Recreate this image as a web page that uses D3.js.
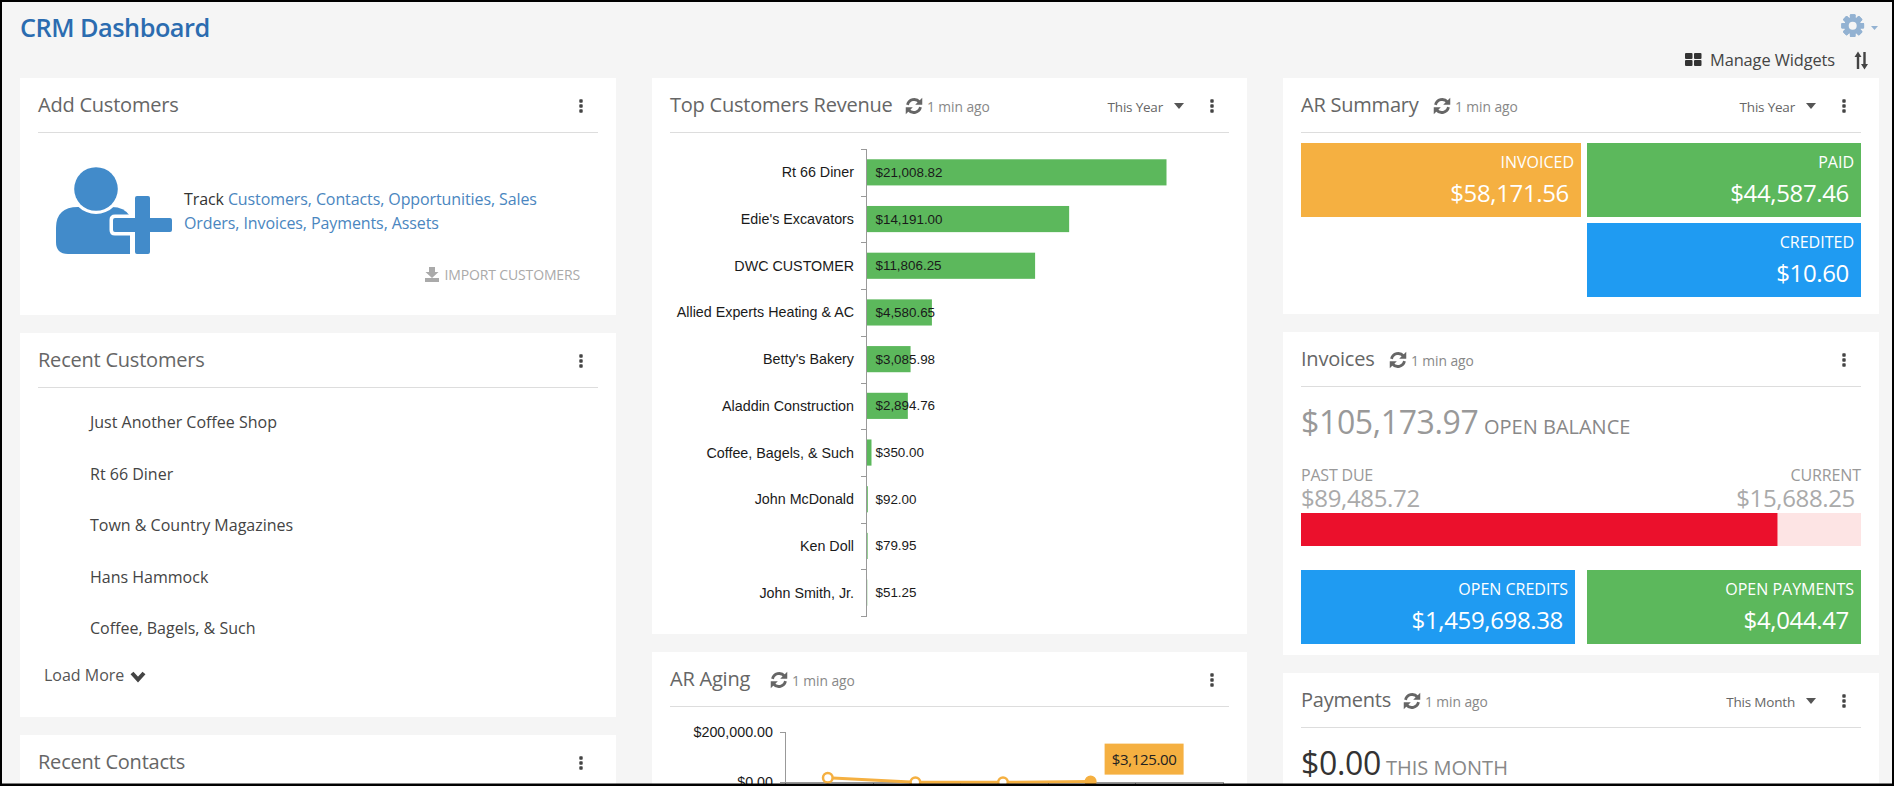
<!DOCTYPE html>
<html>
<head>
<meta charset="utf-8">
<title>CRM Dashboard</title>
<script src="https://cdn.jsdelivr.net/npm/d3@7"></script>
<style>
  html, body { margin: 0; padding: 0; background: #f5f5f5; overflow: hidden; }
  svg { display: block; }
  text { font-family: "Open Sans", sans-serif; }
  .axis path, .axis line { stroke: #999; shape-rendering: crispEdges; }
  .chart-label { font-family: "Liberation Sans", Arial, sans-serif; fill: #1a1a1a; }
  .tight { letter-spacing: -0.35px; }
</style>
</head>
<body>
<svg id="page" width="1894" height="786"></svg>
<script>
// top customers
var customerNames = ["Rt 66 Diner", "Edie's Excavators", "DWC CUSTOMER", "Allied Experts Heating & AC", "Betty's Bakery",
  "Aladdin Construction", "Coffee, Bagels, & Such", "John McDonald", "Ken Doll", "John Smith, Jr."];
var customerRevenue = [21008.82, 14191.00, 11806.25, 4580.65, 3085.98, 2894.76, 350.00, 92.00, 79.95, 51.25];

// ar aging, first three, the last one from its tooltip
var agingBuckets = ["bucket1", "bucket2", "bucket3", "bucket4", "bucket5"];
var agingValues = [18500, 800, 650, 3125];

var recentCustomers = ["Just Another Coffee Shop", "Rt 66 Diner", "Town & Country Magazines", "Hans Hammock", "Coffee, Bagels, & Such"];
var trackLine1 = ["Customers", "Contacts", "Opportunities", "Sales"];
var trackLine2 = ["Orders", "Invoices", "Payments", "Assets"];

var invoicedTotal = 58171.56, paidTotal = 44587.46, creditedTotal = 10.60;
var openBalance = 105173.97, pastDue = 89485.72, currentDue = 15688.25;
var openCredits = 1459698.38, openPayments = 4044.47, paymentsThisMonth = 0;

var money = d3.format("$,.2f");
var ORANGE = "#f5b041", GREEN = "#5cb85c", BLUE = "#1f9bf2", RED = "#eb102c", PINK = "#fde4e4", LINK = "#4a86c0";

var svg = d3.select("#page");
svg.append("rect").attr("width", 1894).attr("height", 786).attr("fill", "#f5f5f5");

function label(x, y, str, size, color, anchor) {
  return svg.append("text").attr("x", x).attr("y", y).text(str)
    .attr("font-size", size).attr("fill", color).attr("text-anchor", anchor || "start");
}

function kebab(x, y) {
  [-5, 0, 5].forEach(function(d) {
    svg.append("rect").attr("x", x - 1.7).attr("y", y + d - 1.7).attr("width", 3.4).attr("height", 3.4)
      .attr("rx", 0.8).attr("fill", "#444");
  });
}

function refreshIcon(cx, cy) {
  var g = svg.append("g").attr("transform", "translate(" + cx + "," + cy + ") scale(1.18)");
  g.append("path").attr("d", "M-5.5,-1 A5.8,5.8 0 0 1 4.6,-3.4").attr("fill", "none").attr("stroke", "#666").attr("stroke-width", 2.4);
  g.append("path").attr("d", "M5.5,1 A5.8,5.8 0 0 1 -4.6,3.4").attr("fill", "none").attr("stroke", "#666").attr("stroke-width", 2.4);
  g.append("path").attr("d", "M7,-7 L7,-1 L1,-1 Z").attr("fill", "#666");
  g.append("path").attr("d", "M-7,7 L-7,1 L-1,1 Z").attr("fill", "#666");
}

function caret(x, y) {
  svg.append("path").attr("d", "M" + x + "," + y + " h10 l-5,6 Z").attr("fill", "#555");
}

// white panel with title row and the grey rule under it
function card(opts) {
  svg.append("rect").attr("x", opts.x).attr("y", opts.y).attr("width", opts.w).attr("height", opts.h).attr("fill", "#fff");
  var left = opts.x + 18, right = opts.x + opts.w - 18;
  var base = opts.y + 34;
  label(left, base, opts.title, 20, "#666").style("letter-spacing", "-0.22px");
  svg.append("rect").attr("x", left).attr("y", opts.y + 54).attr("width", right - left).attr("height", 1).attr("fill", "#ddd");
  kebab(opts.x + opts.w - 35, opts.y + 28);
  if (opts.iconX) {
    refreshIcon(opts.iconX + 8, base - 6);
    label(opts.iconX + 21, base, "1 min ago", 13.8, "#888").style("letter-spacing", "-0.05px");
  }
  if (opts.range) {
    label(opts.x + opts.w - 84, base, opts.range, 13.5, "#666", "end").style("letter-spacing", "-0.2px");
    caret(opts.x + opts.w - 73, base - 9);
  }
}

function tile(x, y, w, h, color, name, value) {
  svg.append("rect").attr("x", x).attr("y", y).attr("width", w).attr("height", h).attr("fill", color);
  label(x + w - 7, y + 25, name, 16, "#fff", "end");
  label(x + w - 12, y + 59, money(value), 24, "#fff", "end").attr("class", "tight");
}

// ---- page header
label(20, 37, "CRM Dashboard", 25.3, "#2b6cb0").attr("font-weight", 600).style("letter-spacing", "-0.5px");

var gear = svg.append("g").attr("transform", "translate(1852.7,25.7)").attr("fill", "#93b2d2");
d3.range(8).forEach(function(i) {
  gear.append("rect").attr("x", -2.8).attr("y", -11.4).attr("width", 5.6).attr("height", 22.8).attr("rx", 1)
    .attr("transform", "rotate(" + i * 45 + ")");
});
gear.append("circle").attr("r", 8.5);
gear.append("circle").attr("r", 4).attr("fill", "#f5f5f5");
svg.append("path").attr("d", "M1871,26 h7 l-3.5,4 Z").attr("fill", "#93b2d2");

[[0, 0], [9, 0], [0, 7], [9, 7]].forEach(function(d) {
  svg.append("rect").attr("x", 1685 + d[0]).attr("y", 53 + d[1]).attr("width", 7.5).attr("height", 6)
    .attr("rx", 1).attr("fill", "#333");
});
label(1710, 66, "Manage Widgets", 16.4, "#444").style("letter-spacing", "-0.1px");
svg.append("path").attr("d", "M1858,55 V69 M1864.5,52 V66").attr("stroke", "#444").attr("stroke-width", 2.4).attr("fill", "none");
svg.append("path").attr("d", "M1854.5,57 L1858,51.5 L1861.5,57 Z M1861,64 H1868 L1864.5,69.5 Z").attr("fill", "#444");

// ---- left column
card({x: 20, y: 78, w: 596, h: 237, title: "Add Customers"});

var person = svg.append("g").attr("fill", "#428bca");
person.append("path").attr("d", "M68,254 Q56,254 56,242 L56,228 Q56,207 78,207 L112,207 Q124,207 130,216 L130,254 Z");
person.append("circle").attr("cx", 96).attr("cy", 189).attr("r", 25).attr("fill", "#fff");
person.append("circle").attr("cx", 96).attr("cy", 189).attr("r", 21.8);
person.append("path")
  .attr("d", "M135,198 q0,-2 2,-2 h11 q2,0 2,2 v20 h20 q2,0 2,2 v10 q0,2 -2,2 h-20 v20 q0,2 -2,2 h-11 q-2,0 -2,-2 v-20 h-20 q-2,0 -2,-2 v-10 q0,-2 2,-2 h20 Z")
  .attr("stroke", "#fff").attr("stroke-width", 7).attr("paint-order", "stroke");

function linkLine(y, prefix, words) {
  var t = svg.append("text").attr("x", 184).attr("y", y).attr("font-size", 16).style("letter-spacing", "-0.1px");
  if (prefix) t.append("tspan").text(prefix + " ").attr("fill", "#333");
  words.forEach(function(w, i) {
    t.append("tspan").text(w).attr("fill", LINK);
    if (i < words.length - 1) t.append("tspan").text(", ").attr("fill", LINK);
  });
}
linkLine(205, "Track", trackLine1);
linkLine(229, "", trackLine2);

svg.append("path").attr("d", "M429,267 h6 v5 h3.5 l-6.5,6 l-6.5,-6 h3.5 Z M425,278 h14 v4 h-14 Z").attr("fill", "#aaa");
label(580, 280, "IMPORT CUSTOMERS", 14, "#aaa", "end").style("letter-spacing", "-0.15px");

card({x: 20, y: 333, w: 596, h: 384, title: "Recent Customers"});
var listY = d3.scalePoint().domain(recentCustomers).range([428, 634]);
svg.selectAll("text.customer").data(recentCustomers).enter().append("text")
  .attr("class", "customer").attr("x", 90).attr("y", function(d) { return listY(d); })
  .attr("font-size", 16).attr("fill", "#444").text(function(d) { return d; });
label(44, 681, "Load More", 16, "#555");
svg.append("path").attr("d", "M132,673 L138,679.5 L144,673").attr("fill", "none").attr("stroke", "#444").attr("stroke-width", 4);

card({x: 20, y: 735, w: 596, h: 60, title: "Recent Contacts"});

// ---- middle column, revenue bars
card({x: 652, y: 78, w: 595, h: 556, title: "Top Customers Revenue", iconX: 906, range: "This Year"});

var barX = d3.scaleLinear().domain([0, 25000]).range([866.5, 1223.5]);
var barY = d3.scaleBand().domain(customerNames).range([149, 616]).paddingInner(0.44).paddingOuter(0.22);
// axis ticks sit between the bars so they come from a plain linear scale
var barTicks = d3.scaleLinear().domain([0, customerNames.length]).range([149, 616]);

svg.selectAll("rect.bar").data(customerNames).enter().append("rect")
  .attr("class", "bar")
  .attr("x", barX(0))
  .attr("y", function(d) { return barY(d); })
  .attr("width", function(d, i) { return barX(customerRevenue[i]) - barX(0); })
  .attr("height", barY.bandwidth())
  .attr("fill", GREEN);

svg.append("g").attr("class", "axis").attr("transform", "translate(866,0)")
  .call(d3.axisLeft(barTicks).ticks(customerNames.length).tickSize(5).tickFormat(""));

svg.selectAll("text.cat").data(customerNames).enter().append("text")
  .attr("class", "cat chart-label").attr("x", 854).attr("text-anchor", "end")
  .attr("y", function(d) { return barY(d) + barY.bandwidth() / 2 + 5; })
  .attr("font-size", 14.3).text(function(d) { return d; });

svg.selectAll("text.val").data(customerRevenue).enter().append("text")
  .attr("class", "val chart-label").attr("x", 875.5)
  .attr("y", function(d, i) { return barY(customerNames[i]) + barY.bandwidth() / 2 + 4.5; })
  .attr("font-size", 13.4).text(function(d) { return money(d); });

// ---- middle column, aging line
card({x: 652, y: 652, w: 595, h: 150, title: "AR Aging", iconX: 771});

var agingX = d3.scaleBand().domain(agingBuckets).range([785, 1223]);
var agingTicks = d3.scaleLinear().domain([0, agingBuckets.length]).range([785, 1223]);
var agingY = d3.scaleLinear().domain([0, 200000]).range([782.4, 732.4]);
var agingCenter = function(i) { return agingX(agingBuckets[i]) + agingX.bandwidth() / 2 - 1; };

var agingAxisY = d3.axisLeft(agingY).tickValues([0, 200000]).tickSize(5).tickFormat(money);
svg.append("g").attr("class", "axis aging-y").attr("transform", "translate(785,0)").call(agingAxisY);
svg.selectAll(".aging-y text").attr("class", "chart-label").attr("font-size", 14.3).attr("x", -12).attr("fill", "#222");
svg.append("g").attr("class", "axis").attr("transform", "translate(0,782.4)")
  .call(d3.axisBottom(agingTicks).ticks(agingBuckets.length).tickSize(5).tickFormat(""));

var agingLine = d3.line().x(function(d, i) { return agingCenter(i); }).y(function(d) { return agingY(d); });
svg.append("path").datum(agingValues).attr("d", agingLine).attr("fill", "none").attr("stroke", ORANGE).attr("stroke-width", 3);
svg.selectAll("circle.aging").data(agingValues).enter().append("circle")
  .attr("class", "aging")
  .attr("cx", function(d, i) { return agingCenter(i); })
  .attr("cy", function(d) { return agingY(d); })
  .attr("r", 4.8)
  .attr("fill", function(d, i) { return i == agingValues.length - 1 ? ORANGE : "#fff"; })
  .attr("stroke", ORANGE).attr("stroke-width", 2.5);

// hover tip of the last point
var tipIdx = agingValues.length - 1;
var tipX = agingCenter(tipIdx) + 14, tipY = agingY(agingValues[tipIdx]) - 38;
svg.append("rect").attr("x", tipX).attr("y", tipY).attr("width", 79).attr("height", 31).attr("fill", ORANGE);
label(tipX + 39.5, tipY + 21, money(agingValues[tipIdx]), 15, "#222", "middle").attr("class", "tight");

// ---- right column
card({x: 1283, y: 78, w: 596, h: 236, title: "AR Summary", iconX: 1434, range: "This Year"});
tile(1301, 143, 280, 74, ORANGE, "INVOICED", invoicedTotal);
tile(1587, 143, 274, 74, GREEN, "PAID", paidTotal);
tile(1587, 223, 274, 74, BLUE, "CREDITED", creditedTotal);

card({x: 1283, y: 332, w: 596, h: 323, title: "Invoices", iconX: 1390});
label(1301, 434, money(openBalance), 32, "#999").attr("class", "tight");
label(1484, 434, "OPEN BALANCE", 20, "#888");
label(1301, 481, "PAST DUE", 16, "#999").style("letter-spacing", "-0.2px");
label(1301, 507, money(pastDue), 24, "#aaa").attr("class", "tight");
label(1861, 481, "CURRENT", 16, "#999", "end").style("letter-spacing", "-0.1px");
label(1855, 507, money(currentDue), 24, "#aaa", "end").attr("class", "tight");

var dueX = d3.scaleLinear().domain([0, pastDue + currentDue]).range([1301, 1861]);
svg.append("rect").attr("x", dueX(0)).attr("y", 513).attr("width", dueX(pastDue + currentDue) - dueX(0)).attr("height", 33).attr("fill", PINK);
svg.append("rect").attr("x", dueX(0)).attr("y", 513).attr("width", dueX(pastDue) - dueX(0)).attr("height", 33).attr("fill", RED);

tile(1301, 570, 274, 74, BLUE, "OPEN CREDITS", openCredits);
tile(1587, 570, 274, 74, GREEN, "OPEN PAYMENTS", openPayments);

card({x: 1283, y: 673, w: 596, h: 130, title: "Payments", iconX: 1404, range: "This Month"});
label(1301, 775, money(paymentsThisMonth), 32, "#333").attr("class", "tight");
label(1386, 775, "THIS MONTH", 20, "#888");

// screenshot frame
svg.append("rect").attr("x", 1).attr("y", 1).attr("width", 1892).attr("height", 783.5)
  .attr("fill", "none").attr("stroke", "#000").attr("stroke-width", 2);
svg.append("rect").attr("x", 0).attr("y", 784).attr("width", 1894).attr("height", 2).attr("fill", "#000");
</script>
</body>
</html>
